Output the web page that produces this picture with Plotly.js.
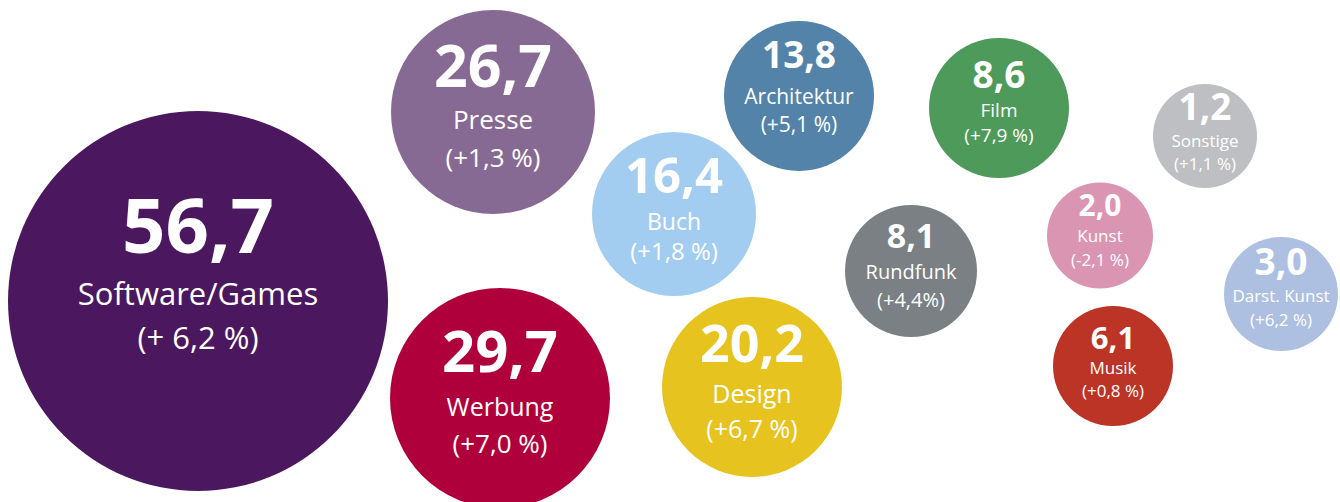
<!DOCTYPE html>
<html>
<head>
<meta charset="utf-8">
<script src="https://cdn.plot.ly/plotly-3.0.1.min.js"></script>
<style>
html,body{margin:0;padding:0;background:#fff;}
#chart{width:1340px;height:502px;}
</style>
</head>
<body>
<div id="chart"></div>
<script>
// ---- data ----
var categories = ["Software/Games","Presse","Werbung","Buch","Design","Architektur","Film","Rundfunk","Sonstige","Kunst","Darst. Kunst","Musik"];
var values = [56.7, 26.7, 29.7, 16.4, 20.2, 13.8, 8.6, 8.1, 1.2, 2.0, 3.0, 6.1];
var changes = ["(+ 6,2 %)","(+1,3 %)","(+7,0 %)","(+1,8 %)","(+6,7 %)","(+5,1 %)","(+7,9 %)","(+4,4%)","(+1,1 %)","(-2,1 %)","(+6,2 %)","(+0,8 %)"];

// ---- layout of bubbles (pixel coordinates) ----
var cx = [198, 493, 500, 674, 752, 799, 999, 911, 1205, 1100, 1281, 1113];
var cy = [301, 112, 398, 214, 387, 96, 108, 271, 136, 235.5, 294, 366];
var radius = [190, 102, 110, 82, 90, 75, 70, 66, 52, 53, 57, 60];
var colors = ["#4b185f","#866a93","#b0003c","#a3cdf0","#e6c31f","#5383a8","#4e9a5a","#7b8084","#bdbfc2","#da95b3","#adc0e1","#bb3426"];
// label line centres and font sizes
var yVal = [234, 72, 357, 180.5, 349, 58.5, 78.5, 239.5, 110.5, 208, 265.5, 341];
var yName = [297.5, 122.5, 409.5, 224, 397, 99, 112, 273.5, 142.5, 237.5, 297.5, 369.5];
var yChg = [341, 160, 446, 254, 432, 127, 137, 302, 166, 262, 322, 393];
var fsVal = [76, 59, 58, 49, 52, 37, 37, 34, 37, 30, 37, 31];
var fsName = [31, 26, 25, 23, 25, 21, 19, 20, 17, 17, 17, 17];
var fsChg = [31, 26, 26, 24, 25, 21, 19, 20, 17, 17, 17, 17];

function fmt(v){ return v.toFixed(1).replace(".", ","); }

var FONT = "Open Sans, Noto Sans, sans-serif";

var traces = [
  {
    type: "scatter", mode: "markers", x: cx, y: cy,
    marker: {size: radius.map(function(r){return 2*r;}), sizemode: "diameter", color: colors, opacity: 1, line: {width: 0}},
    hoverinfo: "text", text: categories.map(function(c,i){return c+": "+fmt(values[i]);})
  },
  {
    type: "scatter", mode: "text", x: cx, y: yVal,
    text: values.map(function(v){return "<b>"+fmt(v)+"</b>";}),
    textposition: "middle center",
    textfont: {family: FONT, size: fsVal, color: "#ffffff"},
    hoverinfo: "skip"
  },
  {
    type: "scatter", mode: "text", x: cx, y: yName,
    text: categories, textposition: "middle center",
    textfont: {family: FONT, size: fsName, color: "#ffffff"},
    hoverinfo: "skip"
  },
  {
    type: "scatter", mode: "text", x: cx, y: yChg,
    text: changes, textposition: "middle center",
    textfont: {family: FONT, size: fsChg, color: "#ffffff"},
    hoverinfo: "skip"
  }
];

var layout = {
  width: 1340, height: 502,
  margin: {l: 0, r: 0, t: 0, b: 0},
  paper_bgcolor: "#ffffff", plot_bgcolor: "#ffffff",
  showlegend: false,
  xaxis: {range: [0, 1340], visible: false, fixedrange: true},
  yaxis: {range: [502, 0], visible: false, fixedrange: true},
  font: {family: FONT}
};

Plotly.newPlot("chart", traces, layout, {displayModeBar: false, staticPlot: true});
</script>
</body>
</html>
